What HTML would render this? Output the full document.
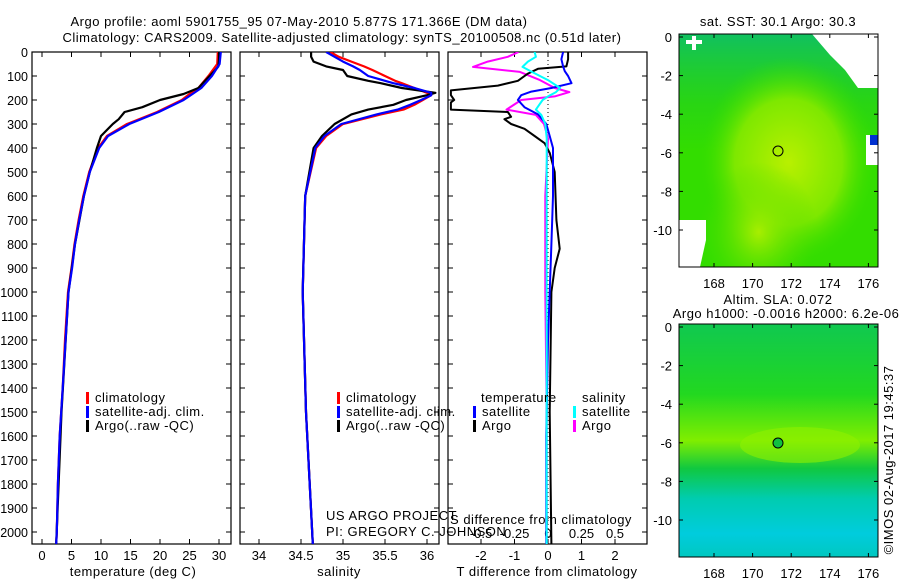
<!DOCTYPE html>
<html><head><meta charset="utf-8"><style>
body{margin:0;background:#fff;}
svg{display:block;font-family:"Liberation Sans",sans-serif;font-size:13px;letter-spacing:0.5px;}
.tk{letter-spacing:0;}
.dk{letter-spacing:0;font-size:12.5px;}
</style></head><body>
<svg id="c" width="900" height="580" xmlns="http://www.w3.org/2000/svg">
<defs>
<radialGradient id="sstA" cx="0.55" cy="0.55" r="0.45"><stop offset="0" stop-color="#b8f000"/><stop offset="0.6" stop-color="#7ee800"/><stop offset="1" stop-color="#33dd00" stop-opacity="0"/></radialGradient>
<radialGradient id="sstB" cx="0.4" cy="0.85" r="0.3"><stop offset="0" stop-color="#a8ee00"/><stop offset="1" stop-color="#44dd00" stop-opacity="0"/></radialGradient>
<linearGradient id="sstTop" x1="0" y1="0" x2="0" y2="1"><stop offset="0" stop-color="#10c060"/><stop offset="0.3" stop-color="#22d020" stop-opacity="0.6"/><stop offset="0.5" stop-color="#22d020" stop-opacity="0"/></linearGradient>
<linearGradient id="sla" x1="0" y1="0" x2="0" y2="1"><stop offset="0" stop-color="#10c850"/><stop offset="0.3" stop-color="#22d820"/><stop offset="0.5" stop-color="#80ee00"/><stop offset="0.62" stop-color="#10c840"/><stop offset="0.75" stop-color="#00ccb0"/><stop offset="0.9" stop-color="#00ccdd"/><stop offset="1" stop-color="#00c8c0"/></linearGradient>
</defs>
<g id="g"></g>
</svg>
<script>
// ---- data ----
const depthT = [0,50,100,150,175,200,250,300,350,400,500,600,700,800,900,1000,1200,1400,1600,1800,2000,2050];
const tempClim = [29.8,29.7,28.2,26.5,25,23.7,19.5,14.4,11,9.5,8,7,6.2,5.5,5,4.4,3.9,3.5,3,2.7,2.5,2.4];
const tempSat = [30.3,30.1,28.8,27,25.5,24,19.8,14.8,11.2,9.7,8.1,7.1,6.3,5.6,5.1,4.5,4,3.5,3,2.7,2.5,2.4];
const depthA = [0,30,60,80,100,150,175,200,230,250,280,300,350,400,500,600,800,1000,1500,2050];
const tempArgo = [30,30,29.9,29.2,28.4,26.5,24,20,17,14,13,12,10,9.3,8.1,7.1,5.6,4.5,3.3,2.4];
const depthS = [0,20,40,60,75,100,120,130,150,170,180,200,220,240,260,300,350,400,600,1000,1500,2050];
const salClim = [34.85,34.95,35.1,35.25,35.35,35.5,35.62,35.7,35.85,36.0,36.05,35.95,35.85,35.72,35.45,35.0,34.8,34.68,34.55,34.52,34.56,34.64];
const salSat = [34.8,34.9,35.0,35.12,35.2,35.3,35.5,35.6,35.85,36.05,36.05,35.93,35.8,35.65,35.4,34.98,34.78,34.67,34.55,34.52,34.56,34.64];
const salArgo = [34.62,34.62,34.65,34.8,35.0,35.05,35.3,35.45,35.7,36.1,36.0,35.75,35.6,35.3,35.1,34.9,34.75,34.65,34.55,34.52,34.56,34.64];
const depthD = [0,30,60,70,90,120,140,160,180,200,210,240,250,270,280,300,320,350,380,420,500,700,820,900,1000,1500,2050];
const dTArgo = [0.6,0.6,0.55,-0.3,-0.6,-0.9,-1.5,-2.9,-2.9,-2.8,-2.9,-2.9,-1.2,-1.1,-1.3,-1.1,-0.7,-0.4,-0.1,0.05,0.2,0.25,0.35,0.2,0.1,0.05,0.1];
const depthD2 = [0,30,60,80,100,130,150,165,180,200,230,260,300,350,400,600,800,1200,1600,2050];
const dTSat = [0.45,0.4,0.45,0.5,0.6,0.7,0.1,-0.5,-0.8,-0.9,-0.7,-0.3,-0.05,0.05,0.15,0.15,0.1,0,-0.05,-0.05];
const depthS2 = [0,20,40,62,83,117,150,167,185,200,240,262,300,360,600,1000,1500,2050];
const dSArgo = [-0.22,-0.3,-0.45,-0.56,-0.21,-0.06,0.05,0.16,0.05,-0.2,-0.31,-0.09,-0.03,0,-0.02,-0.02,-0.01,-0.01];
const dSSat = [-0.1,-0.09,-0.15,-0.19,-0.12,0.0,0.09,0.06,0.0,-0.04,-0.09,-0.05,-0.02,-0.01,-0.01,-0.01,-0.01,-0.01];
const depthTicks = [0,100,200,300,400,500,600,700,800,900,1000,1100,1200,1300,1400,1500,1600,1700,1800,1900,2000];
const tempTicks = [0,5,10,15,20,25,30];
const salTicks = [34,34.5,35,35.5,36];
const salTickLabels = ["34","34.5","35","35.5","36"];
const tdTicks = [-2,-1,0,1,2];
const sdTicks = [-0.5,-0.25,0,0.25,0.5];
const sdTickLabels = ["-0.5","-0.25","0","0.25","0.5"];
const latTicks = [0,-2,-4,-6,-8,-10];
const lonTicks = [168,170,172,174,176];

// ---- scales ----
const Y = d => 52 + d*0.24;
const XT = t => 42 + t*5.9;
const XS = s => 259 + (s-34)*84;
const XTD = v => 548 + v*33.5;
const XSD = v => 548 + v*134;
const NS='http://www.w3.org/2000/svg';
const g=document.getElementById('g');
function el(tag,attrs,parent){const e=document.createElementNS(NS,tag);for(const k in attrs)e.setAttribute(k,attrs[k]);(parent||g).appendChild(e);return e;}
function txt(x,y,s,anchor,name,parent,cls){const e=el('text',{x:x,y:y,'text-anchor':anchor||'start'},parent);e.textContent=s;
if(cls)e.setAttribute('class',cls);


return e;}
function line(xs,ds,fx,color,w,name,clip){let p='';xs.forEach((v,i)=>{p+=(i?'L':'M')+fx(v).toFixed(1)+' '+Y(ds[i]).toFixed(1);});
const e=el('path',{d:p,fill:'none',stroke:color,'stroke-width':w,'stroke-linejoin':'round'});


if(clip)e.setAttribute('clip-path',clip);return e;}

// titles
txt(299,26,"Argo profile: aoml 5901755_95 07-May-2010 5.877S 171.366E (DM data)","middle","title-line-1");
txt(342,42,"Climatology: CARS2009. Satellite-adjusted climatology: synTS_20100508.nc (0.51d later)","middle","title-line-2");

// clip paths
const defs=document.querySelector('defs');
[[32,'c1'],[240,'c2'],[448,'c3']].forEach(([x,id])=>{const cp=el('clipPath',{id:id},defs);el('rect',{x:x,y:52,width:199,height:492},cp);});

// panels
function frame(x,name){const r=el('rect',{x:x,y:52,width:199,height:492,fill:'none',stroke:'#000','stroke-width':1.2});

}
frame(32,'temperature-panel');frame(240,'salinity-panel');frame(448,'difference-panel');

// depth ticks
depthTicks.forEach(d=>{txt(28,Y(d)+5,String(d),'end','depth-tick-label',null,'dk');
[[32,1],[231,-1],[240,1],[439,-1],[448,1],[647,-1]].forEach(([x,s])=>el('line',{x1:x,x2:x+5*s,y1:Y(d),y2:Y(d),stroke:'#000'}));});
tempTicks.forEach(t=>{txt(XT(t),560,String(t),'middle','temperature-tick-label',null,'tk');el('line',{x1:XT(t),x2:XT(t),y1:544,y2:539,stroke:'#000'});el('line',{x1:XT(t),x2:XT(t),y1:52,y2:57,stroke:'#000'});});
salTicks.forEach((s,i)=>{txt(XS(s),560,salTickLabels[i],'middle','salinity-tick-label',null,'tk');el('line',{x1:XS(s),x2:XS(s),y1:544,y2:539,stroke:'#000'});el('line',{x1:XS(s),x2:XS(s),y1:52,y2:57,stroke:'#000'});});
tdTicks.forEach(t=>{txt(XTD(t),560,String(t),'middle','t-diff-tick-label',null,'tk');el('line',{x1:XTD(t),x2:XTD(t),y1:544,y2:539,stroke:'#000'});el('line',{x1:XTD(t),x2:XTD(t),y1:52,y2:57,stroke:'#000'});});
sdTicks.forEach((t,i)=>{txt(XSD(t),538,sdTickLabels[i],'middle','s-diff-tick-label',null,'tk');});
txt(133,576,"temperature (deg C)","middle","temperature-axis-title");
txt(339,576,"salinity","middle","salinity-axis-title");
txt(547,576,"T difference from climatology","middle","t-diff-axis-title");
txt(541,524,"S difference from climatology","middle","s-diff-axis-title");

// zero line in diff panel
el('line',{x1:548,x2:548,y1:52,y2:544,stroke:'#000','stroke-dasharray':'1,3'});

// series
line(tempClim,depthT,XT,'#f00',2.2,'temperature-climatology-line','url(#c1)');
line(tempArgo,depthA,XT,'#000',2.2,'temperature-argo-line','url(#c1)');
line(tempSat,depthT,XT,'#00f',2.2,'temperature-satellite-line','url(#c1)');
line(salClim,depthS,XS,'#f00',2.2,'salinity-climatology-line','url(#c2)');
line(salArgo,depthS,XS,'#000',2.2,'salinity-argo-line','url(#c2)');
line(salSat,depthS,XS,'#00f',2.2,'salinity-satellite-line','url(#c2)');
line(dSArgo,depthS2,XSD,'#f0f',2,'s-diff-argo-line','url(#c3)');
line(dTArgo,depthD,XTD,'#000',2,'t-diff-argo-line','url(#c3)');
line(dTSat,depthD2,XTD,'#00f',2,'t-diff-satellite-line','url(#c3)');
line(dSSat,depthS2,XSD,'#0ff',2,'s-diff-satellite-line','url(#c3)');

// legends
function leg(x,y,color,label,name){el('rect',{x:x,y:y-10,width:3,height:12,fill:color});txt(x+9,y,label,'start',name);}
leg(86,402,'#f00','climatology','legend-climatology');leg(86,416,'#00f','satellite-adj. clim.','legend-satellite');leg(86,430,'#000','Argo(..raw -QC)','legend-argo');
leg(337,402,'#f00','climatology','legend-climatology-2');leg(337,416,'#00f','satellite-adj. clim.','legend-satellite-2');leg(337,430,'#000','Argo(..raw -QC)','legend-argo-2');
txt(481,402,'temperature','start','legend-temperature-heading');
leg(473,416,'#00f','satellite','legend-t-satellite');leg(473,430,'#000','Argo','legend-t-argo');
txt(582,402,'salinity','start','legend-salinity-heading');
leg(573,416,'#0ff','satellite','legend-s-satellite');leg(573,430,'#f0f','Argo','legend-s-argo');
txt(326,520,'US ARGO PROJECT','start','project-label');
txt(326,536,'PI: GREGORY C. JOHNSON','start','pi-label');

// maps
function mapAxes(y0,name){
const L=679,T=y0,W=199,H=233;
const X=lon=>714+(lon-168)*19.3;
lonTicks.forEach(l=>{txt(X(l),y0+H+21,String(l),'middle',name+'-lon-label',null,'tk');el('line',{x1:X(l),x2:X(l),y1:T+H,y2:T+H-4,stroke:'#000'});el('line',{x1:X(l),x2:X(l),y1:T,y2:T+4,stroke:'#000'});});
latTicks.forEach(la=>{const yy=y0+3+(-la)*19.3;txt(672,yy+5,String(la),'end',name+'-lat-label',null,'tk');el('line',{x1:L,x2:L+4,y1:yy,y2:yy,stroke:'#000'});el('line',{x1:L+W,x2:L+W-4,y1:yy,y2:yy,stroke:'#000'});});
const r=el('rect',{x:L,y:T,width:W,height:H,fill:'none',stroke:'#000'});


}
// SST map
const m1=el('g',{});
el('rect',{x:679,y:34,width:199,height:233,fill:'#33dd00'},m1);
el('rect',{x:679,y:34,width:199,height:233,fill:'url(#sstTop)'},m1);
el('rect',{x:679,y:34,width:199,height:233,fill:'url(#sstA)'},m1);
el('rect',{x:679,y:34,width:199,height:233,fill:'url(#sstB)'},m1);
el('polygon',{points:'812,34 878,34 878,88 858,88 845,70 830,55',fill:'#fff'},m1);
el('rect',{x:866,y:135,width:12,height:30,fill:'#fff'},m1);
el('rect',{x:870,y:135,width:8,height:10,fill:'#0030d0'},m1);
el('polygon',{points:'679,220 706,220 706,240 700,267 679,267',fill:'#fff'},m1);
el('rect',{x:686,y:40,width:16,height:4,fill:'#fff'},m1);
el('rect',{x:692,y:36,width:4,height:14,fill:'#fff'},m1);
el('circle',{cx:778,cy:151,r:5,fill:'none',stroke:'#000'},m1);
mapAxes(34,'sst-map');
txt(778,26,'sat. SST: 30.1 Argo: 30.3','middle','sst-map-title');
// SLA map
const m2=el('g',{});
el('rect',{x:679,y:324,width:199,height:233,fill:'url(#sla)'},m2);
el('ellipse',{cx:800,cy:445,rx:60,ry:18,fill:'#90f000',opacity:0.6},m2);
el('circle',{cx:778,cy:443,r:5,fill:'#10c040',stroke:'#000'},m2);
mapAxes(324,'sla-map');
txt(778,304,'Altim. SLA: 0.072','middle','sla-map-title');
txt(786,318,'Argo h1000: -0.0016 h2000: 6.2e-06','middle','sla-map-subtitle');
const cr=txt(0,0,'©IMOS 02-Aug-2017 19:45:37','middle','imos-timestamp');
cr.setAttribute('transform','translate(893,460) rotate(-90)');
</script>
</body></html>
